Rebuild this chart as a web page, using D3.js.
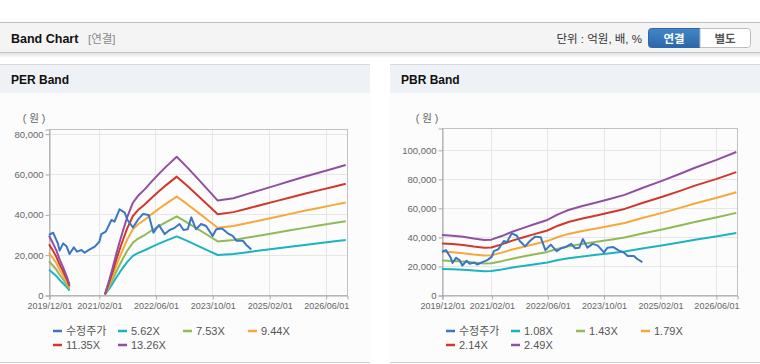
<!DOCTYPE html>
<html>
<head>
<meta charset="utf-8">
<script src="https://cdn.jsdelivr.net/npm/d3@7"></script>
<style>
  body { margin: 0; background: #fff; }
  svg { display: block; font-family: "Liberation Sans", Arial, "Noto Sans CJK KR", sans-serif; }
</style>
</head>
<body>
<div id="chart"></div>
<script>
// x axis tick labels (shared by both charts)
const tickDates = ['2019-12-01', '2021-02-01', '2022-06-01', '2023-10-01', '2025-02-01', '2026-06-01'];

// adjusted share price (수정주가)
const priceDates = ['2019-12-01', '2020-01-05', '2020-02-15', '2020-03-01', '2020-04-01', '2020-05-01', '2020-05-25',
  '2020-07-01', '2020-07-28', '2020-09-05', '2020-10-01', '2020-11-15', '2020-12-28', '2021-02-05', '2021-02-22',
  '2021-04-01', '2021-05-20', '2021-06-15', '2021-07-28', '2021-09-10', '2021-10-05', '2021-11-20', '2022-01-01',
  '2022-02-15', '2022-04-05', '2022-05-15', '2022-07-01', '2022-08-20', '2022-10-01', '2022-11-05', '2022-12-25',
  '2023-01-28', '2023-03-05', '2023-04-05', '2023-05-15', '2023-06-28', '2023-08-10', '2023-10-05', '2023-11-05',
  '2023-12-25', '2024-02-12', '2024-03-25', '2024-04-28', '2024-06-20', '2024-07-20', '2024-09-01'];
const priceValues = [29750, 30900, 25600, 22000, 25600, 24000, 20300,
  23600, 21500, 22300, 21000, 22600, 24000, 26400, 30200,
  31400, 37200, 36400, 42500, 40800, 37200, 33500, 37200,
  40200, 39700, 30900, 34700, 30200, 32200, 33000, 35200,
  32200, 32600, 38500, 32600, 35200, 34200, 29300, 32600,
  33000, 30600, 29300, 26900, 26900, 24800, 22600];

// PER band: EPS read back from the bands, null = no band (loss period)
const epsDates = ['2019-12-01', '2020-01-01', '2020-02-01', '2020-03-01', '2020-04-01', '2020-05-01', '2020-05-25',
  '2020-10-01', '2021-03-25', '2021-05-01', '2021-06-01', '2021-07-01', '2021-08-01', '2021-09-01', '2021-10-01',
  '2021-11-20', '2022-01-01', '2022-03-01', '2022-05-01', '2022-07-01', '2022-09-01', '2022-12-01', '2023-03-01',
  '2023-06-01', '2023-09-01', '2023-11-18', '2024-04-01', '2024-08-01', '2024-12-01', '2025-04-01', '2025-08-01',
  '2025-12-01', '2026-04-01', '2026-08-01', '2026-11-20'];
const epsValues = [2220, 1960, 1680, 1330, 1020, 700, 390,
  null, 30, 560, 1050, 1550, 2030, 2480, 2900,
  3450, 3700, 3950, 4250, 4530, 4800, 5170, 4770,
  4340, 3900, 3530, 3620, 3780, 3940, 4100, 4260,
  4420, 4570, 4720, 4860];
const perMultiples = [5.62, 7.53, 9.44, 11.35, 13.26];

// PBR band: BPS
const bpsDates = ['2019-12-01', '2020-03-01', '2020-06-01', '2020-09-01', '2020-12-01', '2021-02-01', '2021-05-01',
  '2021-08-01', '2021-11-01', '2022-02-01', '2022-06-01', '2022-09-01', '2022-12-01', '2023-04-01', '2023-08-01',
  '2023-12-01', '2024-04-01', '2024-09-01', '2025-03-01', '2025-08-01', '2025-12-01', '2026-06-01', '2026-11-25'];
const bpsValues = [16600, 16400, 16100, 15600, 15200, 15300, 16300,
  17500, 18500, 19500, 20750, 22300, 23500, 24600, 25600,
  26600, 27700, 29600, 31700, 33600, 35200, 37300, 39550];
const pbrMultiples = [1.08, 1.43, 1.79, 2.14, 2.49];

const priceColor = '#3a76c4';
const bandColors = ['#1cb3c1', '#8fba57', '#f4a93a', '#d0382d', '#91509f'];

const parse = d3.timeParse('%Y-%m-%d');
const W = 760, H = 364;

const svg = d3.select('#chart').append('svg').attr('width', W).attr('height', H);
const defs = svg.append('defs');

const shadow = defs.append('linearGradient').attr('id', 'shadow').attr('x1', 0).attr('y1', 0).attr('x2', 0).attr('y2', 1);
shadow.append('stop').attr('offset', 0).attr('stop-color', '#000').attr('stop-opacity', 0.12);
shadow.append('stop').attr('offset', 1).attr('stop-color', '#000').attr('stop-opacity', 0);

const btn = defs.append('linearGradient').attr('id', 'btn').attr('x1', 0).attr('y1', 0).attr('x2', 0).attr('y2', 1);
btn.append('stop').attr('offset', 0).attr('stop-color', '#4286c8');
btn.append('stop').attr('offset', 1).attr('stop-color', '#2b68aa');

// top header bar
svg.append('rect').attr('x', 0).attr('y', 22).attr('width', W).attr('height', 31).attr('fill', '#f4f4f4');
svg.append('line').attr('x1', 0).attr('x2', W).attr('y1', 22.5).attr('y2', 22.5).attr('stroke', '#bdbdbd');
svg.append('line').attr('x1', 0).attr('x2', W).attr('y1', 52.5).attr('y2', 52.5).attr('stroke', '#c4c4c4');
svg.append('rect').attr('x', 0).attr('y', 53).attr('width', W).attr('height', 5).attr('fill', 'url(#shadow)');

svg.append('text').attr('x', 11).attr('y', 43).attr('font-size', 12.5).attr('font-weight', 'bold')
  .attr('fill', '#111').text('Band Chart');
svg.append('text').attr('x', 88).attr('y', 43).attr('font-size', 11.5).attr('fill', '#8a8a8a').text('[연결]');
svg.append('text').attr('x', 642).attr('y', 43).attr('font-size', 11.5).attr('fill', '#333')
  .attr('text-anchor', 'end').text('단위 : 억원, 배, %');

// 연결 / 별도 toggle
svg.append('path')
  .attr('d', 'M700,28.5 H651.5 a3,3 0 0 0 -3,3 V44.5 a3,3 0 0 0 3,3 H700 Z')
  .attr('fill', 'url(#btn)').attr('stroke', '#2d67a6');
svg.append('path')
  .attr('d', 'M700,28.5 H747.5 a3,3 0 0 1 3,3 V44.5 a3,3 0 0 1 -3,3 H700 Z')
  .attr('fill', '#fff').attr('stroke', '#bdbdbd');
svg.append('text').attr('x', 674).attr('y', 42.5).attr('text-anchor', 'middle').attr('font-size', 11.5)
  .attr('font-weight', 'bold').attr('fill', '#fff').text('연결');
svg.append('text').attr('x', 725).attr('y', 42.5).attr('text-anchor', 'middle').attr('font-size', 11.5)
  .attr('font-weight', 'bold').attr('fill', '#555').text('별도');

const drawPanel = (cfg) => {
  const g = svg.append('g');
  const px = cfg.panelX;

  g.append('rect').attr('x', px).attr('y', 64).attr('width', 370).attr('height', 299).attr('fill', '#fcfcfc');
  g.append('rect').attr('x', px).attr('y', 64).attr('width', 370).attr('height', 29).attr('fill', '#eef1f6');
  g.append('line').attr('x1', px).attr('x2', px + 370).attr('y1', 64.5).attr('y2', 64.5).attr('stroke', '#d8d8d8');
  g.append('line').attr('x1', px).attr('x2', px + 370).attr('y1', 362.5).attr('y2', 362.5).attr('stroke', '#d0d0d0');
  g.append('text').attr('x', px + 11).attr('y', 84).attr('font-size', 12).attr('font-weight', 'bold')
    .attr('fill', '#111').text(cfg.title);

  const x = d3.scaleTime()
    .domain([parse('2019-12-01'), parse('2026-12-01')])
    .range([cfg.left, cfg.right]);
  const y = d3.scaleLinear().domain([0, cfg.yMax]).range([295, cfg.top]);

  // gridlines
  g.append('g').selectAll('line').data(cfg.yTicks.slice(1)).enter().append('line')
    .attr('x1', cfg.left).attr('x2', cfg.right)
    .attr('y1', d => Math.round(y(d)) + 0.5).attr('y2', d => Math.round(y(d)) + 0.5)
    .attr('stroke', '#e6e6e6');
  g.append('g').selectAll('line').data(tickDates.slice(1).map(parse)).enter().append('line')
    .attr('x1', d => Math.round(x(d)) + 0.5).attr('x2', d => Math.round(x(d)) + 0.5)
    .attr('y1', cfg.top).attr('y2', 295)
    .attr('stroke', '#e6e6e6');

  g.append('rect')
    .attr('x', cfg.left + 0.5).attr('y', cfg.top + 0.5)
    .attr('width', cfg.right - cfg.left).attr('height', 295 - cfg.top)
    .attr('fill', 'none').attr('stroke', '#c2c2c2');

  const yAxis = g.append('g')
    .attr('transform', `translate(${cfg.left + 0.5},0.5)`)
    .call(d3.axisLeft(y).tickValues(cfg.yTicks).tickSize(4).tickPadding(2).tickFormat(d3.format(',')));
  yAxis.select('.domain').attr('stroke', '#aaa');
  yAxis.selectAll('.tick line').attr('stroke', '#aaa');
  yAxis.selectAll('text').attr('font-size', 9.5).attr('fill', '#666').attr('font-family', null);

  const xAxis = g.append('g')
    .attr('transform', `translate(0.5,295.5)`)
    .call(d3.axisBottom(x).tickValues(tickDates.map(parse)).tickSize(4).tickPadding(3)
      .tickFormat(d3.timeFormat('%Y/%m/%d')));
  xAxis.select('.domain').attr('stroke', '#aaa');
  xAxis.selectAll('.tick line').attr('stroke', '#aaa');
  xAxis.selectAll('text').attr('font-size', 9).attr('fill', '#666').attr('font-family', null);

  g.append('text').attr('x', cfg.left - 15).attr('y', 122).attr('font-size', 10.5).attr('fill', '#666')
    .attr('text-anchor', 'middle').text('( 원 )');

  const line = d3.line()
    .defined(d => d.v !== null)
    .x(d => x(d.date))
    .y(d => y(d.v));

  const baseDates = cfg.baseDates.map(parse);
  cfg.multiples.forEach((m, i) => {
    const pts = baseDates.map((dt, j) => ({ date: dt, v: cfg.baseValues[j] === null ? null : cfg.baseValues[j] * m }));
    g.append('path').datum(pts)
      .attr('fill', 'none').attr('stroke', bandColors[i]).attr('stroke-width', 2)
      .attr('stroke-linejoin', 'round')
      .attr('d', line);
  });

  const pricePts = priceDates.map((d, j) => ({ date: parse(d), v: priceValues[j] }));
  g.append('path').datum(pricePts)
    .attr('fill', 'none').attr('stroke', priceColor).attr('stroke-width', 2)
    .attr('stroke-linejoin', 'round')
    .attr('d', line);

  // legend
  const items = [{ name: '수정주가', color: priceColor }]
    .concat(cfg.multiples.map((m, i) => ({ name: m.toFixed(2) + 'X', color: bandColors[i] })));
  const lg = g.append('g').selectAll('g').data(items).enter().append('g')
    .attr('transform', (d, i) => `translate(${cfg.left + 4 + (i % 4) * 65},${i < 4 ? 331 : 345})`);
  lg.append('line').attr('x1', 0).attr('x2', 9).attr('y1', 0).attr('y2', 0)
    .attr('stroke', d => d.color).attr('stroke-width', 2.5);
  lg.append('text').attr('x', 13).attr('y', 4).attr('font-size', 11).attr('fill', '#555')
    .text(d => d.name);
};

drawPanel({
  panelX: 0, title: 'PER Band', left: 49, right: 347, top: 129,
  yMax: 82300, yTicks: [0, 20000, 40000, 60000, 80000],
  baseDates: epsDates, baseValues: epsValues, multiples: perMultiples
});

drawPanel({
  panelX: 390, title: 'PBR Band', left: 442, right: 737, top: 128,
  yMax: 115000, yTicks: [0, 20000, 40000, 60000, 80000, 100000],
  baseDates: bpsDates, baseValues: bpsValues, multiples: pbrMultiples
});
</script>
</body>
</html>
